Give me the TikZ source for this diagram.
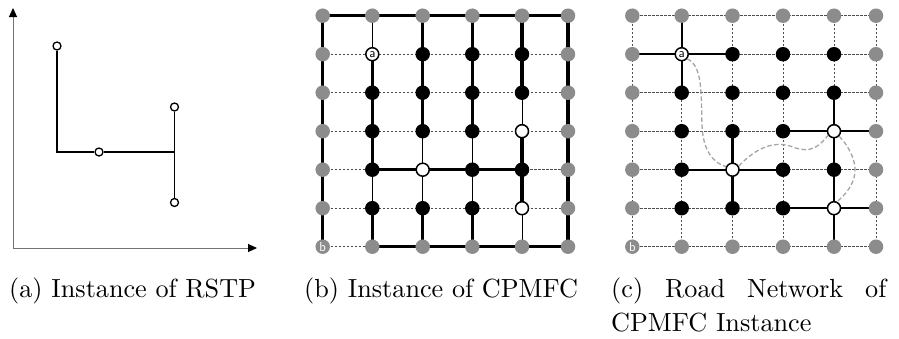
\documentclass[tikz,border=0pt]{standalone}
\usepackage{graphicx}
\usetikzlibrary{arrows.meta,backgrounds}
\definecolor{ngray}{RGB}{140,140,140}
\definecolor{cgray}{RGB}{165,165,165}
\tikzset{
  gnode/.style={circle,fill=ngray,minimum size=14.5pt,inner sep=0pt},
  knode/.style={circle,fill=black,minimum size=14.5pt,inner sep=0pt},
  wnode/.style={circle,fill=white,draw=black,line width=1.5pt,minimum size=13pt,inner sep=0pt},
  pnode/.style={circle,fill=white,draw=black,line width=1.3pt,minimum size=8pt,inner sep=0pt},
  rstp/.style={line width=1.3pt,black},
  axis/.style={line width=1pt,black!55,-{Triangle[length=9pt,width=8pt,color=black]}},
  thickedge/.style={line width=3.4pt,black},
  midedge/.style={line width=2.4pt,black},
  thinedge/.style={line width=1pt,black},
  dashedge/.style={line width=0.9pt,black!70,dash pattern=on 2.5pt off 1.5pt},
  curve/.style={line width=1.3pt,cgray,dash pattern=on 4.5pt off 2.5pt},
  lbl/.style={font=\sffamily\fontsize{13}{13}\selectfont,inner sep=0pt},
  captxt/.style={anchor=base west,inner sep=0pt}
}
\begin{document}
\begin{tikzpicture}[x=1pt,y=-1pt]
\useasboundingbox (0,0) rectangle (899,338);

% ---------- panel (a)
\coordinate (o) at (13,248);
\coordinate (ytip) at (13,8);
\coordinate (xtip) at (257,248);
\draw[axis] (o) -- (ytip);
\draw[axis] (o) -- (xtip);
\node[pnode] (a1) at (57,46) {};
\node[pnode] (a2) at (99,152) {};
\node[pnode] (a3) at (174.5,107) {};
\node[pnode] (a4) at (174.5,202.5) {};
\coordinate (cor) at (57,152);
\coordinate (tj) at (174.5,152);
\draw[rstp] (a1) -- (cor) -- (a2);
\draw[rstp] (a2) -- (tj);
\draw[rstp] (a3) -- (a4);

% ---------- panel (b) nodes
\foreach \c/\x in {0/322.7,1/372.3,2/422.7,3/472.3,4/522,5/568}{
  \foreach \r/\y in {0/15.7,1/54.2,2/92.7,3/131.2,4/169.7,5/208.2,6/246.7}{
    \pgfmathtruncatemacro\bd{(\c==0)||(\c==5)||(\r==0)||(\r==6)}
    \pgfmathtruncatemacro\wt{((\c==1)&&(\r==1))||((\c==4)&&(\r==3))||((\c==2)&&(\r==4))||((\c==4)&&(\r==5))}
    \ifnum\bd=1 \def\sty{gnode}\else\ifnum\wt=1 \def\sty{wnode}\else\def\sty{knode}\fi\fi
    \node[\sty] (p\c\r) at (\x,\y) {};
  }
}
\node[lbl] at (p11) {a};
\node[lbl,text=white] at (p06) {b};

\begin{scope}[on background layer]
  \foreach \r in {1,2,3,5} \draw[dashedge] (p0\r.center) -- (p5\r.center);
  \draw[dashedge] (p04.center) -- (p14.center);
  \draw[dashedge] (p44.center) -- (p54.center);
  \draw[dashedge] (p06.center) -- (p16.center);
  \draw[thinedge] (p10.center) -- (p11.center);
  \draw[thinedge] (p14.center) -- (p15.center);
  \draw[thinedge] (p23.center) -- (p25.center);
  \draw[thinedge] (p33.center) -- (p35.center);
  \draw[thinedge] (p42.center) -- (p43.center);
  \draw[thinedge] (p45.center) -- (p46.center);
  \draw[thickedge] (p00.center) -- (p50.center);
  \draw[thickedge] (p00.center) -- (p06.center);
  \draw[thickedge] (p50.center) -- (p56.center);
  \draw[thickedge] (p16.center) -- (p56.center);
  \draw[thickedge] (p11.center) -- (p14.center);
  \draw[thickedge] (p15.center) -- (p16.center);
  \draw[thickedge] (p20.center) -- (p23.center);
  \draw[thickedge] (p25.center) -- (p26.center);
  \draw[thickedge] (p30.center) -- (p33.center);
  \draw[thickedge] (p35.center) -- (p36.center);
  \draw[thickedge] (p40.center) -- (p42.center);
  \draw[thickedge] (p43.center) -- (p45.center);
  \draw[thickedge] (p14.center) -- (p44.center);
\end{scope}

% ---------- panel (c) nodes
\foreach \c/\x in {0/632.3,1/681.7,2/732.5,3/783,4/834,5/876}{
  \foreach \r/\y in {0/15.7,1/54.2,2/92.7,3/131.2,4/169.7,5/208.2,6/246.7}{
    \pgfmathtruncatemacro\bd{(\c==0)||(\c==5)||(\r==0)||(\r==6)}
    \pgfmathtruncatemacro\wt{((\c==1)&&(\r==1))||((\c==4)&&(\r==3))||((\c==2)&&(\r==4))||((\c==4)&&(\r==5))}
    \ifnum\bd=1 \def\sty{gnode}\else\ifnum\wt=1 \def\sty{wnode}\else\def\sty{knode}\fi\fi
    \node[\sty] (q\c\r) at (\x,\y) {};
  }
}
\node[lbl] at (q11) {a};
\node[lbl,text=white] at (q06) {b};

\begin{scope}[on background layer]
  \foreach \r in {0,...,6} \draw[dashedge] (q0\r.center) -- (q5\r.center);
  \foreach \c in {0,...,5} \draw[dashedge] (q\c0.center) -- (q\c6.center);
  \draw[midedge] (q10.center) -- (q12.center);
  \draw[midedge] (q01.center) -- (q21.center);
  \draw[midedge] (q23.center) -- (q25.center);
  \draw[midedge] (q14.center) -- (q34.center);
  \draw[midedge] (q33.center) -- (q53.center);
  \draw[midedge] (q42.center) -- (q46.center);
  \draw[midedge] (q35.center) -- (q55.center);
\end{scope}

\draw[curve] (q11.-40) .. controls (703,66) and (701,95) .. (702,125)
  .. controls (703,152) and (714,163) .. (q24.155);
\draw[curve] (q24.30) .. controls (752,152) and (770,140) .. (790,146)
  .. controls (805,152) and (815,152) .. (q43.215);
\draw[curve] (q43.-45) .. controls (848,145) and (856,160) .. (855,172)
  .. controls (854,185) and (845,195) .. (q45.65);

% ---------- captions
\node[captxt] (capa) at (9,297) {\scalebox{2.62}{(a) Instance of RSTP}};
\node[captxt] (capb) at (304,297) {\scalebox{2.62}{(b) Instance of CPMFC}};
\node[captxt] (capc) at (611,297) {\scalebox{2.62}{\parbox[t]{105pt}{\tolerance=10000\hyphenpenalty=10000\fontsize{10}{13}\selectfont (c) Road Network of CPMFC Instance}}};
\end{tikzpicture}
\end{document}
